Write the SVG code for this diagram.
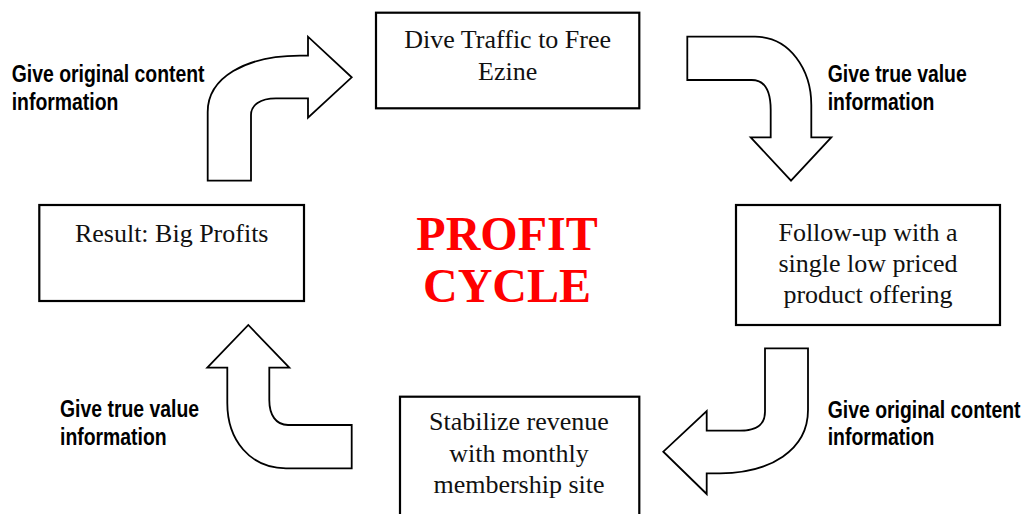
<svg xmlns="http://www.w3.org/2000/svg" width="1027" height="514" viewBox="0 0 1027 514">
<style>
.box{fill:#fff;stroke:#000;stroke-width:2.2}
.arr{fill:#fff;stroke:#000;stroke-width:1.8;stroke-linejoin:miter}
.t{font-family:"Liberation Serif","Times New Roman",serif;font-size:26px;fill:#111;text-anchor:middle}
.lbl{font-family:"Liberation Sans",Arial,sans-serif;font-weight:bold;font-size:19.4px;fill:#000}
.big{font-family:"Liberation Serif","Times New Roman",serif;font-weight:bold;font-size:48px;fill:#ff0000;text-anchor:middle}
</style>
<rect width="1027" height="514" fill="#fff"/>
<g id="connectors">
<path class="arr" d="M207.7,180.7 L207.7,112 C207.7,78 245,55.7 300,55.7 L308,55.7 L308,36.7 L351.7,77.3 L308,117.7 L308,98.3 L276,98.3 C260,98.3 251,105 251,115 L251,180.7 Z"/>
<path class="arr" d="M687.3,36.7 L755,36.7 C790,36.7 811.3,70 811.3,105 L811.3,137.3 L831.3,137.3 L791,180.7 L750.7,137.3 L770.7,137.3 L770.7,110 C770.7,90 765,80 751.7,80 L687.3,80 Z"/>
<path class="arr" d="M765,348.3 L808,348.3 L808,410 C808,450 770,473.3 720,473.3 L706.7,473.3 L706.7,494 L663.3,451.7 L706.7,411 L706.7,430.7 L740,430.7 C758,430.7 765,424 765,411.7 Z"/>
<path class="arr" d="M227.3,367.7 L207.3,367.7 L248.3,325 L289.3,367.7 L269.3,367.7 L269.3,400 C269.3,415 276,425 288,425 L351.7,425 L351.7,468.3 L286,468.3 C250,468.3 227.3,440 227.3,403 Z"/>
</g>
<g id="node-top">
<rect class="box" x="376" y="12.7" width="263.3" height="95.6"/>
<text class="t" x="507.7" y="48.3">Dive Traffic to Free</text>
<text class="t" x="507.7" y="80">Ezine</text>
</g>
<g id="node-right">
<rect class="box" x="736" y="205" width="264" height="120"/>
<text class="t" x="868" y="241">Follow-up with a</text>
<text class="t" x="868" y="272">single low priced</text>
<text class="t" x="868" y="303">product offering</text>
</g>
<g id="node-bottom">
<rect class="box" x="400" y="396.7" width="239.3" height="130"/>
<text class="t" x="519" y="430">Stabilize revenue</text>
<text class="t" x="519" y="461.7">with monthly</text>
<text class="t" x="519" y="493">membership site</text>
</g>
<g id="node-left">
<rect class="box" x="39.3" y="205" width="264.7" height="96"/>
<text class="t" x="171.7" y="241.7">Result: Big Profits</text>
</g>
<g id="center">
<text class="big" x="507" y="250">PROFIT</text>
<text class="big" x="507" y="302">CYCLE</text>
</g>
<g id="labels">
<text class="lbl" transform="translate(11.7,82.3) scale(1,1.19)">Give original content</text>
<text class="lbl" transform="translate(11.7,110) scale(1,1.19)">information</text>
<text class="lbl" transform="translate(827.7,82.3) scale(1,1.19)">Give true value</text>
<text class="lbl" transform="translate(827.7,110) scale(1,1.19)">information</text>
<text class="lbl" transform="translate(827.7,417.7) scale(1,1.19)">Give original content</text>
<text class="lbl" transform="translate(827.7,445) scale(1,1.19)">information</text>
<text class="lbl" transform="translate(60,417.3) scale(1,1.19)">Give true value</text>
<text class="lbl" transform="translate(60,445) scale(1,1.19)">information</text>
</g>
</svg>
